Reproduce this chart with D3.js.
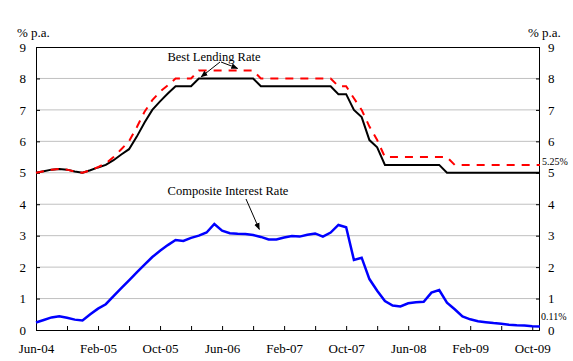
<!DOCTYPE html>
<html>
<head>
<meta charset="utf-8">
<script src="https://cdn.jsdelivr.net/npm/d3@7"></script>
<style>
  body { margin: 0; background: #fff; }
  svg { display: block; font-family: "Liberation Serif", "Times New Roman", serif; }
</style>
</head>
<body>
<svg id="chart" width="573" height="361"></svg>
<script>
// months counted from Jun-04 (index 0) to Nov-09 (index 65)
const tickLabels = ['Jun-04', 'Feb-05', 'Oct-05', 'Jun-06', 'Feb-07', 'Oct-07', 'Jun-08', 'Feb-09', 'Oct-09'];
const yTicks = [0, 1, 2, 3, 4, 5, 6, 7, 8, 9];

// best lending rate (lower, black)
const bestLendingLow = [
  5.00, 5.05, 5.10, 5.12, 5.10, 5.04, 5.00, 5.08, 5.17, 5.25,
  5.40, 5.58, 5.75, 6.15, 6.60, 7.00, 7.27, 7.52, 7.75, 7.75,
  7.75, 8.00, 8.00, 8.00, 8.00, 8.00, 8.00, 8.00, 8.00, 7.75,
  7.75, 7.75, 7.75, 7.75, 7.75, 7.75, 7.75, 7.75, 7.75, 7.50,
  7.50, 7.00, 6.77, 6.04, 5.81, 5.25, 5.25, 5.25, 5.25, 5.25,
  5.25, 5.25, 5.25, 5.00, 5.00, 5.00, 5.00, 5.00, 5.00, 5.00,
  5.00, 5.00, 5.00, 5.00, 5.00, 5.00
];
// best lending rate (upper, red dashed)
const bestLendingHigh = [
  5.00, 5.05, 5.10, 5.12, 5.10, 5.04, 5.00, 5.08, 5.18, 5.30,
  5.50, 5.75, 6.00, 6.45, 6.94, 7.31, 7.58, 7.78, 8.00, 8.00,
  8.00, 8.25, 8.25, 8.25, 8.25, 8.25, 8.25, 8.25, 8.25, 8.00,
  8.00, 8.00, 8.00, 8.00, 8.00, 8.00, 8.00, 8.00, 8.00, 7.75,
  7.75, 7.37, 7.00, 6.47, 6.04, 5.50, 5.50, 5.50, 5.50, 5.50,
  5.50, 5.50, 5.50, 5.50, 5.25, 5.25, 5.25, 5.25, 5.25, 5.25,
  5.25, 5.25, 5.25, 5.25, 5.25, 5.25
];
// composite interest rate (blue)
const composite = [
  0.24, 0.32, 0.40, 0.44, 0.39, 0.33, 0.30, 0.50, 0.68, 0.82,
  1.08, 1.33, 1.58, 1.83, 2.08, 2.32, 2.52, 2.70, 2.86, 2.83,
  2.93, 3.00, 3.10, 3.37, 3.16, 3.08, 3.06, 3.05, 3.02, 2.96,
  2.88, 2.88, 2.94, 2.99, 2.97, 3.03, 3.07, 2.97, 3.10, 3.34,
  3.27, 2.23, 2.30, 1.62, 1.25, 0.92, 0.78, 0.75, 0.85, 0.88,
  0.90, 1.19, 1.27, 0.87, 0.66, 0.43, 0.34, 0.28, 0.25, 0.22,
  0.20, 0.17, 0.15, 0.14, 0.12, 0.11
];

const svg = d3.select('#chart');
const m = {left: 36, right: 540, top: 47, bottom: 330};

const x = d3.scaleLinear().domain([0, 65]).range([m.left, m.right]);
const y = d3.scaleLinear().domain([0, 9]).range([m.bottom, m.top]);

// gridlines
svg.append('g')
    .selectAll('line')
    .data(yTicks.filter(d => d > 0 && d < 9))
    .enter().append('line')
    .attr('x1', m.left).attr('x2', m.right)
    .attr('y1', d => y(d)).attr('y2', d => y(d))
    .attr('stroke', '#c0c0c0')
    .attr('stroke-width', 1);

// axes (ticks inside)
const fontSize = 13;
const yLeft = svg.append('g')
    .attr('transform', `translate(${m.left},0)`)
    .call(d3.axisLeft(y).tickValues(yTicks).tickSize(-4).tickPadding(10).tickFormat(d3.format('d')));
const yRight = svg.append('g')
    .attr('transform', `translate(${m.right},0)`)
    .call(d3.axisRight(y).tickValues(yTicks).tickSize(-4).tickPadding(8).tickFormat(d3.format('d')));

const xTickVals = d3.range(0, 65, 4);
const xAxis = svg.append('g')
    .attr('transform', `translate(0,${m.bottom})`)
    .call(d3.axisBottom(x).tickValues(xTickVals).tickSize(-4).tickPadding(14)
        .tickFormat((d, i) => i % 2 === 0 ? tickLabels[i / 2] : ''));

[yLeft, yRight, xAxis].forEach(g => {
    g.select('.domain').remove();
    g.selectAll('text').attr('font-family', '"Liberation Serif", serif').attr('font-size', fontSize).attr('fill', '#000');
    g.selectAll('line').attr('stroke', '#000');
});

// frame
svg.append('rect')
    .attr('x', m.left + 0.5).attr('y', m.top + 0.5)
    .attr('width', m.right - m.left - 1).attr('height', m.bottom - m.top)
    .attr('fill', 'none')
    .attr('stroke', '#000')
    .attr('stroke-width', 1);

const line = d3.line().x((d, i) => x(i)).y(d => y(d));

svg.append('path')
    .datum(bestLendingLow)
    .attr('d', line)
    .attr('fill', 'none')
    .attr('stroke', '#000')
    .attr('stroke-width', 2);

svg.append('path')
    .datum(bestLendingHigh)
    .attr('d', line)
    .attr('fill', 'none')
    .attr('stroke', '#ff0000')
    .attr('stroke-width', 2)
    .attr('stroke-dasharray', '8,7');

svg.append('path')
    .datum(composite)
    .attr('d', line)
    .attr('fill', 'none')
    .attr('stroke', '#0000ff')
    .attr('stroke-width', 2.5);

// unit labels
svg.append('text').attr('x', 17).attr('y', 37).attr('font-size', fontSize).text('% p.a.');
svg.append('text').attr('x', 528).attr('y', 37).attr('font-size', fontSize).text('% p.a.');

// end value labels
svg.append('text').attr('x', 542).attr('y', 165).attr('font-size', 10)
    .text(d3.format('.2f')(bestLendingHigh[65]) + '%');
svg.append('text').attr('x', 541).attr('y', 320).attr('font-size', 10)
    .text(d3.format('.2f')(composite[65]) + '%');

// annotations
const defs = svg.append('defs');
defs.append('marker')
    .attr('id', 'arrow')
    .attr('viewBox', '0 0 10 10')
    .attr('refX', 9).attr('refY', 5)
    .attr('markerWidth', 7).attr('markerHeight', 7)
    .attr('orient', 'auto')
    .append('path')
    .attr('d', 'M0,1 L10,5 L0,9 Z')
    .attr('fill', '#000');

svg.append('text').attr('x', 214).attr('y', 61).attr('font-size', 12.5)
    .attr('text-anchor', 'middle').text('Best Lending Rate');
svg.append('line')
    .attr('x1', 220).attr('y1', 62).attr('x2', x(21.3)).attr('y2', y(8.05))
    .attr('stroke', '#000').attr('marker-end', 'url(#arrow)');
svg.append('line')
    .attr('x1', 221).attr('y1', 62).attr('x2', x(26)).attr('y2', y(8.32))
    .attr('stroke', '#000').attr('marker-end', 'url(#arrow)');

svg.append('text').attr('x', 228).attr('y', 195).attr('font-size', 12.5)
    .attr('text-anchor', 'middle').text('Composite Interest Rate');
svg.append('line')
    .attr('x1', 246).attr('y1', 199).attr('x2', x(28.8)).attr('y2', y(3.2))
    .attr('stroke', '#000').attr('marker-end', 'url(#arrow)');
</script>
</body>
</html>
